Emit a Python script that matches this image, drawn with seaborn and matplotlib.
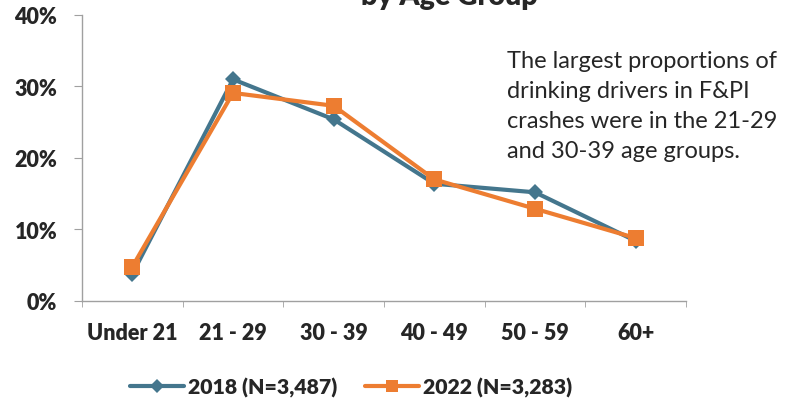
import pandas as pd
import seaborn as sns
import matplotlib.pyplot as plt
from matplotlib.ticker import FixedLocator, PercentFormatter

age_groups = ["Under 21", "21 - 29", "30 - 39", "40 - 49", "50 - 59", "60+"]
share_2018 = [3.8, 31.0, 25.4, 16.4, 15.2, 8.4]
share_2022 = [4.8, 29.1, 27.3, 17.0, 12.9, 8.8]
series_names = ["2018 (N=3,487)", "2022 (N=3,283)"]

data = pd.concat([
    pd.DataFrame({"age": age_groups, "pct": share_2018, "year": series_names[0]}),
    pd.DataFrame({"age": age_groups, "pct": share_2022, "year": series_names[1]}),
])

sns.set_style("white")
plt.rcParams["font.family"] = ["Lato", "DejaVu Sans"]

fig = plt.figure(figsize=(7.88, 4.02), dpi=100)
ax = fig.add_axes([0.1041, 0.2488, 0.7665, 0.7114])

palette = {series_names[0]: "#44768D", series_names[1]: "#ED7D31"}
markers = {series_names[0]: "D", series_names[1]: "s"}
sizes = {series_names[0]: 8.5, series_names[1]: 11.5}

for name in series_names:
    sub = data[data["year"] == name]
    sns.lineplot(data=sub, x="age", y="pct", color=palette[name], marker=markers[name],
                 markersize=sizes[name], markeredgewidth=0, linewidth=3,
                 label=name, ax=ax, sort=False)

ax.set_xlim(-0.5, 5.5)
ax.set_ylim(0, 40)
ax.yaxis.set_major_locator(FixedLocator([0, 10, 20, 30, 40]))
ax.yaxis.set_major_formatter(PercentFormatter(decimals=0))
ax.xaxis.set_minor_locator(FixedLocator([i - 0.5 for i in range(7)]))
ax.set_xlabel("")
ax.set_ylabel("")

for s in ["top", "right"]:
    ax.spines[s].set_visible(False)
for s in ["left", "bottom"]:
    ax.spines[s].set_color("#a0a0a0")
    ax.spines[s].set_linewidth(1)

ax.tick_params(axis="y", which="major", left=True, length=5.8, color="#a0a0a0", pad=12,
               labelsize=15.5)
ax.tick_params(axis="x", which="major", bottom=False, length=0, pad=15, labelsize=15.5)
ax.tick_params(axis="x", which="minor", bottom=True, length=4.5, color="#a0a0a0")
for lab in ax.get_xticklabels() + ax.get_yticklabels():
    lab.set_fontweight("heavy")

fig.text(0.570, 0.9876, "by Age Group", ha="center", va="baseline", fontsize=20.5,
         fontweight="heavy")

fig.text(0.643, 0.872,
         "The largest proportions of\ndrinking drivers in F&PI\ncrashes were in the 21-29\nand 30-39 age groups.",
         ha="left", va="top", fontsize=17, linespacing=1.52)

ax.legend(loc="center", bbox_to_anchor=(0.4455, 0.0348), bbox_transform=fig.transFigure,
          ncol=2, frameon=False, prop={"weight": "heavy", "size": 15.3},
          handlelength=2.55, columnspacing=1.27, handletextpad=0.2, markerscale=0.8)

fig.savefig("out.png", dpi=100)
